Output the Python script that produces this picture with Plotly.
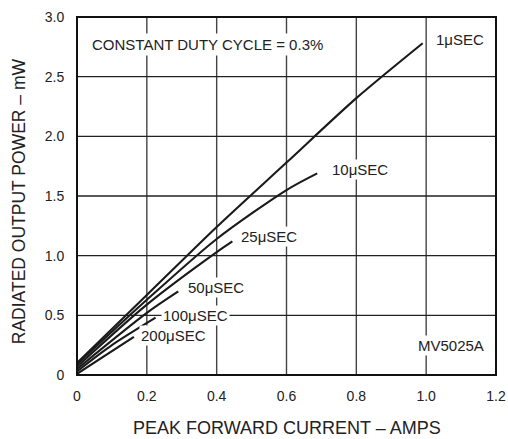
import plotly.graph_objects as go

# Data
x_1us = [0, 0.2, 0.4, 0.6, 0.8, 0.99]
y_1us = [0.10, 0.67, 1.24, 1.78, 2.32, 2.78]
x_10us = [0, 0.2, 0.4, 0.6, 0.688]
y_10us = [0.09, 0.63, 1.14, 1.55, 1.69]
x_25us = [0, 0.2, 0.4, 0.445]
y_25us = [0.07, 0.59, 1.03, 1.12]
x_50us = [0, 0.2, 0.29]
y_50us = [0.05, 0.52, 0.70]
x_100us = [0, 0.1, 0.225]
y_100us = [0.03, 0.25, 0.48]
x_200us = [0, 0.163]
y_200us = [0.01, 0.32]

series_names = ["1μSEC", "10μSEC", "25μSEC", "50μSEC", "100μSEC", "200μSEC"]
series_x = [x_1us, x_10us, x_25us, x_50us, x_100us, x_200us]
series_y = [y_1us, y_10us, y_25us, y_50us, y_100us, y_200us]
label_x = [1.022, 0.725, 0.464, 0.312, 0.241, 0.178]
label_y = [2.81, 1.72, 1.16, 0.73, 0.50, 0.33]

x_ticks = [0, 0.2, 0.4, 0.6, 0.8, 1.0, 1.2]
x_ticktext = ["0", "0.2", "0.4", "0.6", "0.8", "1.0", "1.2"]
y_ticks = [0, 0.5, 1.0, 1.5, 2.0, 2.5, 3.0]
y_ticktext = ["0", "0.5", "1.0", "1.5", "2.0", "2.5", "3.0"]

FONT = "Liberation Sans, Arial, Helvetica, sans-serif"
X_MAX = x_ticks[-1]
Y_MAX = y_ticks[-1]

fig = go.Figure()

# grid lines as shapes (below traces)
for xv in x_ticks[1:-1]:
    fig.add_shape(type="line", xref="x", yref="y", x0=xv, x1=xv, y0=0, y1=Y_MAX,
                  line=dict(color="#444444", width=1.4), layer="below")
for yv in y_ticks[1:-1]:
    fig.add_shape(type="line", xref="x", yref="y", x0=0, x1=X_MAX, y0=yv, y1=yv,
                  line=dict(color="#222222", width=1.4), layer="below")

for name, xs, ys in zip(series_names, series_x, series_y):
    fig.add_trace(go.Scatter(x=xs, y=ys, mode="lines", name=name,
                             line=dict(color="#1a1a1a", width=2.1, shape="spline", smoothing=0.8),
                             showlegend=False, hoverinfo="skip"))

for name, lx, ly in zip(series_names, label_x, label_y):
    fig.add_annotation(x=lx, y=ly, text=name, showarrow=False, xanchor="left", yanchor="middle",
                       font=dict(family=FONT, size=15, color="#222"), bgcolor="white", borderpad=1)

fig.add_annotation(x=0.033, y=2.77, text="CONSTANT DUTY CYCLE = 0.3%", showarrow=False,
                   xanchor="left", yanchor="middle", font=dict(family=FONT, size=15, color="#222"),
                   bgcolor="white", borderpad=2)
fig.add_annotation(x=0.971, y=0.245, text="MV5025A", showarrow=False,
                   xanchor="left", yanchor="middle", font=dict(family=FONT, size=15, color="#222"),
                   bgcolor="white", borderpad=1)

# axis titles
fig.add_annotation(xref="paper", yref="paper", x=0.5, y=-0.148, text="PEAK FORWARD CURRENT – AMPS",
                   showarrow=False, xanchor="center", yanchor="middle",
                   font=dict(family=FONT, size=18, color="#222"))
fig.add_annotation(xref="paper", yref="paper", x=-0.138, y=0.486, text="RADIATED OUTPUT POWER – mW",
                   showarrow=False, xanchor="center", yanchor="middle", textangle=-90,
                   font=dict(family=FONT, size=17.5, color="#222"))

# frame
fig.add_shape(type="rect", xref="paper", yref="paper", x0=0, x1=1, y0=0, y1=1,
              line=dict(color="#111111", width=2), layer="above")

fig.update_layout(
    width=508, height=439,
    margin=dict(l=77, r=12, t=17, b=64, autoexpand=False),
    paper_bgcolor="white", plot_bgcolor="white",
    font=dict(family=FONT, size=14, color="#222"),
)
fig.update_xaxes(range=[0, X_MAX], tickvals=x_ticks, ticktext=x_ticktext,
                 showgrid=False, showline=False,
                 ticks="outside", ticklen=8, tickcolor="white", tickwidth=1,
                 zeroline=False, tickfont=dict(size=14), automargin=False)
fig.update_yaxes(range=[0, Y_MAX], tickvals=y_ticks, ticktext=y_ticktext,
                 showgrid=False, showline=False,
                 ticks="outside", ticklen=9, tickcolor="white", tickwidth=1,
                 zeroline=False, tickfont=dict(size=14), automargin=False)

fig.write_html("out.html", config={"displayModeBar": False},
               post_script="document.body.style.margin='0px';")
